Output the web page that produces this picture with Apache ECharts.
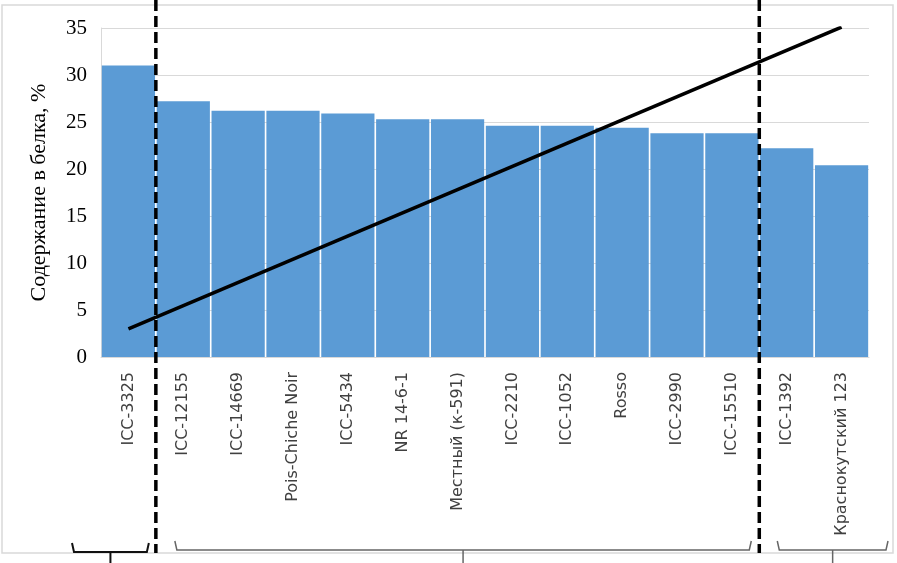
<!DOCTYPE html>
<html>
<head>
<meta charset="utf-8">
<script src="https://cdn.jsdelivr.net/npm/echarts@6/dist/echarts.min.js"></script>
<style>
  html, body { margin: 0; padding: 0; background: #fff; }
  #chart { width: 897px; height: 563px; }
</style>
</head>
<body>
<div id="chart"></div>
<script>
// категории (сорта)
const categories = ['ICC-3325', 'ICC-12155', 'ICC-14669', 'Pois-Chiche Noir', 'ICC-5434', 'NR 14-6-1',
  'Местный (к-591)', 'ICC-2210', 'ICC-1052', 'Rosso', 'ICC-2990', 'ICC-15510', 'ICC-1392', 'Краснокутский 123']
// содержание белка, %
const proteinValues = [31.0, 27.2, 26.2, 26.2, 25.9, 25.3, 25.3, 24.6, 24.6, 24.4, 23.8, 23.8, 22.2, 20.4]
// линия тренда: только концы, середина соединяется
const trendValues = [3.0, null, null, null, null, null, null, null, null, null, null, null, null, 35.1]

var myChart = echarts.init(document.getElementById('chart'))

let option = {
  animation: false,
  grid: {
    left: 101,
    right: 28,
    top: 28,
    bottom: 206
  },
  xAxis: {
    type: 'category',
    data: categories,
    axisLine: { show: true, lineStyle: { color: '#d9d9d9' } },
    axisTick: { show: false },
    axisLabel: {
      rotate: 90,
      interval: 0,
      margin: 15,
      color: '#404040',
      fontFamily: 'DejaVu Sans',
      fontSize: 16
    }
  },
  yAxis: {
    type: 'value',
    min: 0,
    max: 35,
    interval: 5,
    name: 'Содержание в белка, %',
    nameLocation: 'middle',
    nameRotate: 90,
    nameGap: 51,
    nameTextStyle: {
      color: '#000',
      fontFamily: 'Liberation Serif',
      fontSize: 22
    },
    axisLine: { show: true, lineStyle: { color: '#d9d9d9' } },
    axisTick: { show: false },
    axisLabel: {
      margin: 14,
      color: '#000',
      fontFamily: 'Liberation Serif',
      fontSize: 21
    },
    splitLine: { lineStyle: { color: '#d9d9d9', width: 1 } }
  },
  series: [
    {
      name: 'белок',
      type: 'bar',
      data: proteinValues,
      barCategoryGap: '3%',
      itemStyle: { color: '#5b9bd5' }
    },
    {
      name: 'тренд',
      type: 'line',
      data: trendValues,
      connectNulls: true,
      symbol: 'none',
      z: 5,
      lineStyle: { color: '#000', width: 3.5 }
    }
  ]
}
myChart.setOption(option)

// пунктирные разделители и скобки по границам категорий
function catX(i) {
  return myChart.convertToPixel({ xAxisIndex: 0 }, i)
}
function boundary(i) {
  // граница между категорией i и i+1
  return (catX(i) + catX(i + 1)) / 2
}
const step = catX(1) - catX(0)

let graphic = [
  {
    type: 'rect',
    shape: { x: 2, y: 5, width: 891, height: 548 },
    style: { fill: 'none', stroke: '#d9d9d9', lineWidth: 1.5 },
    z: 0
  }
]
;[0, 11].forEach(i => {
  const x = boundary(i)
  graphic.push({
    type: 'line',
    shape: { x1: x, y1: 0, x2: x, y2: 553 },
    style: { stroke: '#000', lineWidth: 3.5, lineDash: [11, 5] },
    z: 100
  })
})

// скобки: [левый, правый, y, цвет, толщина]
const braceSpecs = [
  [catX(0) - step / 2 - 29, boundary(0) - 7, 552, '#111', 2],
  [boundary(0) + 19, boundary(11) - 8, 550, '#666', 1.5],
  [boundary(11) + 18, catX(13) + step / 2 + 19, 550, '#666', 1.5]
]
braceSpecs.forEach(b => {
  const x1 = b[0], x2 = b[1], y = b[2]
  const xm = (x1 + x2) / 2
  graphic.push({
    type: 'polyline',
    shape: { points: [[x1, y - 9], [x1 + 2, y], [x2 - 2, y], [x2, y - 9]] },
    style: { fill: 'none', stroke: b[3], lineWidth: b[4] },
    z: 100
  })
  graphic.push({
    type: 'line',
    shape: { x1: xm, y1: y, x2: xm, y2: 563 },
    style: { stroke: b[3], lineWidth: b[4] },
    z: 100
  })
})

myChart.setOption({ graphic: graphic })
</script>
</body>
</html>
